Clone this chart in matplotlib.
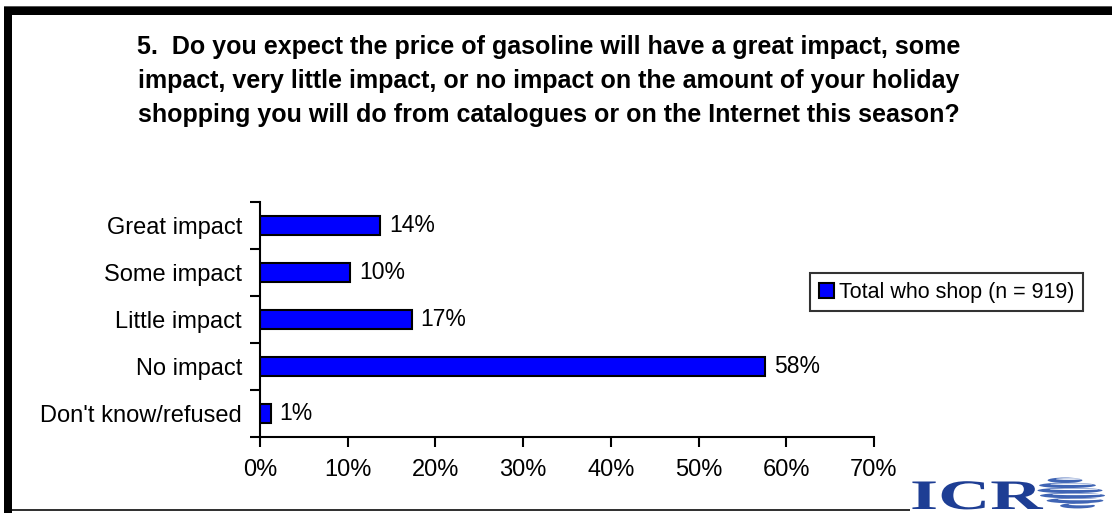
import numpy as np
import matplotlib.pyplot as plt
from matplotlib.patches import Rectangle, Ellipse, PathPatch
from matplotlib.textpath import TextPath
from matplotlib.font_manager import FontProperties
from matplotlib.transforms import Affine2D

plt.rcParams['font.family'] = ['Liberation Sans', 'DejaVu Sans']

# survey answers, top to bottom
categories = ['Great impact', 'Some impact', 'Little impact', 'No impact', "Don't know/refused"]
shares = [13.7, 10.3, 17.3, 57.6, 1.2]
series_name = 'Total who shop (n = 919)'
xticks = [0, 10, 20, 30, 40, 50, 60, 70]

title = ('5.  Do you expect the price of gasoline will have a great impact, some\n'
         'impact, very little impact, or no impact on the amount of your holiday\n'
         'shopping you will do from catalogues or on the Internet this season?')

W, H = 1112, 513
fig = plt.figure(figsize=(W / 100, H / 100), dpi=100)

# frame around the slide
def px_rect(x0, y0, x1, y1, color):
    fig.patches.append(Rectangle((x0 / W, 1 - y1 / H), (x1 - x0) / W, (y1 - y0) / H,
                                 transform=fig.transFigure, color=color, lw=0, zorder=0))

px_rect(4, 6, W, 7, '#555555')
px_rect(4, 7, W, 15, 'black')
px_rect(4, 7, 12, H, 'black')
px_rect(12, 509, 910, 511, '#333333')

fig.text(549 / W, 1 - 81 / H, title, ha='center', va='center', fontsize=18,
         fontweight='bold', linespacing=1.55)

ax = fig.add_axes([260 / W, 76 / H, 614 / W, 235 / H])
y = np.arange(len(categories))
bars = ax.barh(y, shares, height=0.42, color='#0000FF', edgecolor='black',
               linewidth=1.5, label=series_name)
for b, v in zip(bars, shares):
    ax.text(b.get_width() + 1.0, b.get_y() + b.get_height() / 2, f'{v:.0f}%',
            va='center', ha='left', fontsize=16.5)

ax.set_xlim(0, 70)
ax.set_ylim(len(categories) - 0.5, -0.5)
ax.set_xticks(xticks)
ax.set_xticklabels([f'{t}%' for t in xticks], fontsize=17)
ax.set_yticks(y)
ax.set_yticklabels(categories, fontsize=17)
ax.set_yticks(np.arange(len(categories) + 1) - 0.5, minor=True)
ax.tick_params(axis='y', which='major', length=0, pad=13)
ax.tick_params(axis='y', which='minor', length=7, width=1.5, direction='out')
ax.tick_params(axis='x', length=7, width=1.5, direction='out', pad=9)
for s in ['top', 'right']:
    ax.spines[s].set_visible(False)
for s in ['left', 'bottom']:
    ax.spines[s].set_linewidth(1.5)

leg = fig.legend(loc='upper left', bbox_to_anchor=(810 / W, 1 - 273 / H), fontsize=15.5,
                 frameon=True, fancybox=False, shadow=False, borderpad=0.4,
                 handlelength=0.7, handleheight=0.7, handletextpad=0.25, borderaxespad=0)
leg.get_frame().set_edgecolor('black')
leg.get_frame().set_linewidth(1.5)

# ICR logo: stretched serif letters plus a striped globe
logo_blue = '#1E3E94'
lg = fig.add_axes([0, 0, 1, 1])
lg.set_xlim(0, W)
lg.set_ylim(H, 0)
lg.axis('off')
lg.add_patch(Rectangle((908, 466), W - 908, H - 466, color='white', lw=0))
tp = TextPath((0, 0), 'ICR', size=42, prop=FontProperties(family='Liberation Serif', weight='bold'))
tp = tp.transformed(Affine2D().scale(1.72, -1.0).translate(910, 509))
lg.add_patch(PathPatch(tp, color=logo_blue, lw=0))
cx, cy = 1071, 493
for k, yy in enumerate(np.linspace(-0.85, 0.85, 6)):
    wdt = np.sqrt(1 - yy ** 2) * 66
    lg.add_patch(Ellipse((cx + 2.5 * k - 6, cy + yy * 15), wdt, 5.4, color='#3F64B4', lw=0))
    lg.add_patch(Ellipse((cx + 2.5 * k - 2, cy + yy * 15 - 1.2), wdt * 0.75, 1.6, color='white', lw=0))

fig.savefig('out.png', dpi=100)
